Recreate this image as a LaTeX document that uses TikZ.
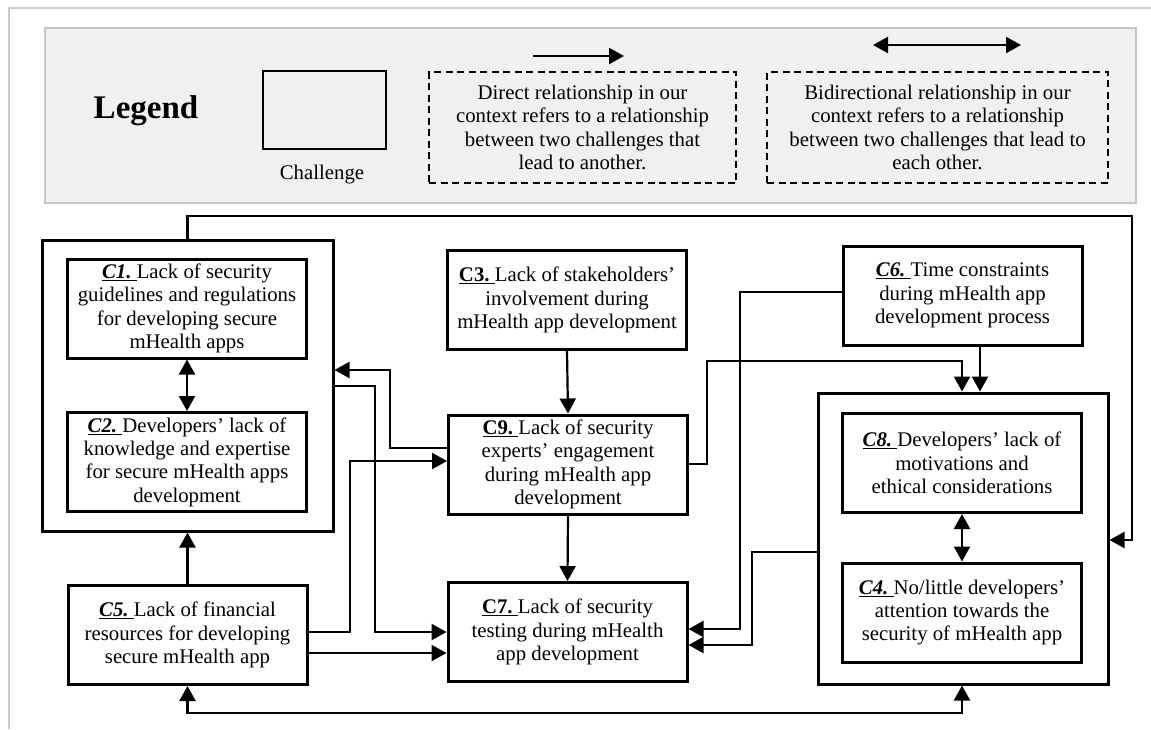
\documentclass[tikz,border=0pt]{standalone}
\usepackage{fontspec}
\setmainfont{Liberation Serif}
\usetikzlibrary{arrows.meta}

\definecolor{framegray}{HTML}{CCCCCC}
\definecolor{legfill}{HTML}{F0F0F0}
\definecolor{legborder}{HTML}{C6C6C6}

% challenge labels: italic or upright, bold, underlined
\newcommand{\chlabi}[1]{\underline{\textbf{\textit{#1}}\ }}
\newcommand{\chlabb}[1]{\underline{\textbf{#1}\ }}

\begin{document}
\begin{tikzpicture}[x=1pt,y=-1pt,
  txt/.style={font=\fontsize{20.8}{23.3}\selectfont, align=center},
  chal/.style={txt, draw, line width=3pt, minimum width=239pt, minimum height=99pt, inner sep=0pt},
  grp/.style={draw, line width=3pt, minimum width=291pt, minimum height=291pt},
  dashbox/.style={txt, draw, line width=1.6pt, dash pattern=on 7pt off 4.5pt, inner sep=0pt},
  conn/.style={line width=2.2pt, -{Triangle[length=15pt,width=16pt]}},
  bidir/.style={line width=2.2pt, {Triangle[length=15pt,width=16pt]}-{Triangle[length=15pt,width=16pt]}},
]
\useasboundingbox (0,0) rectangle (1151,729);

% page frame
\draw[framegray, line width=2pt] (9,729) -- (9,8) -- (1151,8);

% ---------------- legend ----------------
\node[draw=legborder, fill=legfill, line width=1.5pt, minimum width=1091pt, minimum height=175pt,
      inner sep=0pt, anchor=north west] (legend) at (44,27) {};
\node[font=\fontsize{33}{36}\selectfont\bfseries] (legtitle) at (146,111) {Legend};
\node[draw, line width=2pt, minimum width=123pt, minimum height=78pt, inner sep=0pt] (legbox) at (324.5,110) {};
\node[txt] (legboxlbl) at (322,175) {Challenge};

\coordinate (da1) at (533,56);
\coordinate (da2) at (624,56);
\draw[conn] (da1) -- (da2);
\node[dashbox, minimum width=307pt, minimum height=111pt] (legdirect) at (582.5,127.5)
  {Direct relationship in our\\context refers to a relationship\\between two challenges that\\lead to another.};

\coordinate (ba1) at (873,45);
\coordinate (ba2) at (1021,45);
\draw[bidir] (ba1) -- (ba2);
\node[dashbox, minimum width=341pt, minimum height=111pt] (legbidir) at (937.5,127.5)
  {Bidirectional relationship in our\\context refers to a relationship\\between two challenges that lead to\\each other.};

% ---------------- challenges ----------------
\node[grp] (G12) at (187.5,385.5) {};
\node[chal] (C1) at (187,308.5)
  {\chlabi{C1.}Lack of security\\guidelines and regulations\\for developing secure\\mHealth apps};
\node[chal] (C2) at (187,462)
  {\chlabi{C2.}Developers’ lack of\\knowledge and expertise\\for secure mHealth apps\\development};
\node[chal] (C5) at (187.5,635)
  {\chlabi{C5.}Lack of financial\\resources for developing\\secure mHealth app};

\node[chal] (C3) at (567,300)
  {\chlabb{C3.}Lack of stakeholders’\\involvement during\\mHealth app development};
\node[chal] (C9) at (568,464.5)
  {\chlabb{C9.}Lack of security\\experts’ engagement\\during mHealth app\\development};
\node[chal] (C7) at (567.5,632)
  {\chlabb{C7.}Lack of security\\testing during mHealth\\app development};

\node[chal] (C6) at (962.5,295.5)
  {\chlabi{C6.}Time constraints\\during mHealth app\\development process};
\node[grp, minimum width=290pt] (G48) at (963,538.5) {};
\node[chal] (C8) at (962,463)
  {\chlabi{C8.}Developers’ lack of\\motivations and\\ethical considerations};
\node[chal] (C4) at (962,612.5)
  {\chlabi{C4.}No/little developers’\\attention towards the\\security of mHealth app};

% ---------------- routing levels ----------------
\coordinate (yTop)   at (0,216);
\coordinate (yLoop)  at (0,540);
\coordinate (yBot)   at (0,713);
\coordinate (yC9a)   at (0,448);
\coordinate (yC9b)   at (0,461);
\coordinate (yC9c)   at (0,464);
\coordinate (yG12a)  at (0,370);
\coordinate (yG12b)  at (0,386);
\coordinate (yC7a)   at (0,632);
\coordinate (yC7b)   at (0,653);
\coordinate (yC7c)   at (0,629);
\coordinate (yC7d)   at (0,645);
\coordinate (yC6)    at (0,292);
\coordinate (yG48)   at (0,552);
\coordinate (yHop)   at (0,361);
\coordinate (xLoop)  at (1132,0);
\coordinate (xA)     at (390,0);
\coordinate (xB)     at (375,0);
\coordinate (xC)     at (350,0);
\coordinate (xD)     at (707,0);
\coordinate (xE)     at (740,0);
\coordinate (xF)     at (752,0);
\coordinate (xG)     at (962,0);
\coordinate (xH)     at (980,0);

% ---------------- relationships ----------------
\draw[conn] (G12.north) |- (xLoop |- yTop) |- (G48.east |- yLoop);
\draw[bidir] (C1.south) -- (C2.north);
\draw[conn] (C5.north) -- (G12.south);
\draw[bidir] (C5.south) |- (xG |- yBot) -- (G48.south -| xG);

\draw[conn] (C9.west |- yC9a) -| (xA |- yG12a) -- (G12.east |- yG12a);
\draw[conn] (G12.east |- yG12b) -| (xB |- yC7a) -- (C7.west |- yC7a);
\draw[conn] (C5.east |- yC7a) -| (xC |- yC9b) -- (C9.west |- yC9b);
\draw[conn] (C5.east |- yC7b) -- (C7.west |- yC7b);

\draw[conn] (C3.south) -- (C9.north);
\draw[conn] (C9.south) -- (C7.north);
\draw[conn] (C9.east |- yC9c) -| (xD |- yHop) -| (G48.north -| xG);
\draw[conn] (C6.south -| xH) -- (G48.north -| xH);
\draw[conn] (C6.west |- yC6) -| (xE |- yC7c) -- (C7.east |- yC7c);
\draw[conn] (G48.west |- yG48) -| (xF |- yC7d) -- (C7.east |- yC7d);
\draw[bidir] (C8.south) -- (C4.north);
\end{tikzpicture}
\end{document}
